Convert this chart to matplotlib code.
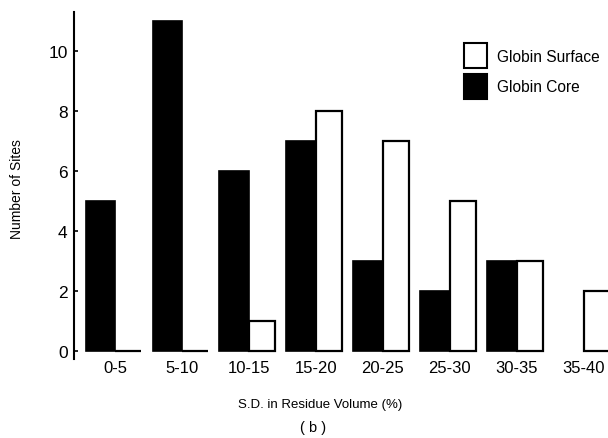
import numpy as np
import matplotlib
matplotlib.use("Agg")
import matplotlib.pyplot as plt
from matplotlib.patches import Rectangle

# data
bins = ["0-5", "5-10", "10-15", "15-20", "20-25", "25-30", "30-35", "35-40"]
core = [5, 11, 6, 7, 3, 2, 3, 0]
surface = [0, 0, 1, 8, 7, 5, 3, 2]

plt.rcParams["font.family"] = ["Liberation Sans", "DejaVu Sans"]

W, H = 608, 439
fig = plt.figure(figsize=(W / 100, H / 100), dpi=100)
ax = fig.add_axes([74 / W, 79 / H, 534 / W, 347 / H])

x = np.arange(len(bins))
core_w = 0.44
surf_w = 0.39

# core bars sit left of the group centre, surface bars right of it
ax.bar(x, core, width=-core_w, align="edge", color="black", edgecolor="black",
       linewidth=[1.2 if v > 0 else 0 for v in core])
ax.bar(x, surface, width=surf_w, align="edge", color="white", edgecolor="black",
       linewidth=1.6)

ax.set_xlim(-0.612, 7.36)
ax.set_ylim(-0.27, 11.3)

for s in ["top", "right", "bottom"]:
    ax.spines[s].set_visible(False)
ax.spines["left"].set_linewidth(1.5)

ax.set_yticks([0, 2, 4, 6, 8, 10])
ax.tick_params(axis="y", direction="in", length=3, width=1.2, pad=4.5, labelsize=12.5)
ax.set_xticks(x)
ax.set_xticklabels(bins)
ax.tick_params(axis="x", length=0, pad=0.5, labelsize=12)

fig.text(17 / W, 1 - 189 / H, "Number of Sites", fontsize=10, rotation=90,
         ha="center", va="center")
fig.text(320 / W, 1 - 405 / H, "S.D. in Residue Volume (%)", fontsize=9.5,
         ha="center", va="center")
fig.text(313 / W, 1 - 428 / H, "( b )", fontsize=10.5, ha="center", va="center")

# legend drawn by hand to match the boxes in the original
fig.patches.append(Rectangle((464 / W, 1 - 69 / H), 23 / W, 25 / H,
                             facecolor="white", edgecolor="black", linewidth=1.5,
                             transform=fig.transFigure))
fig.patches.append(Rectangle((464 / W, 1 - 100 / H), 23 / W, 25 / H,
                             facecolor="black", edgecolor="black", linewidth=1.5,
                             transform=fig.transFigure))
fig.text(497 / W, 1 - 57 / H, "Globin Surface", fontsize=11.2, va="center")
fig.text(497 / W, 1 - 88 / H, "Globin Core", fontsize=11.2, va="center")

fig.savefig("out.png", dpi=100)
